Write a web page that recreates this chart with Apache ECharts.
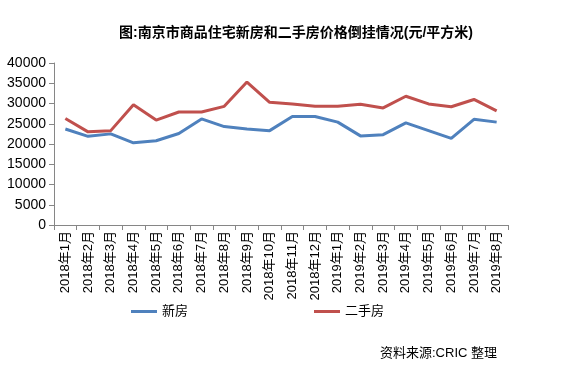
<!DOCTYPE html>
<html><head><meta charset="utf-8">
<script src="https://cdn.jsdelivr.net/npm/echarts@6/dist/echarts.min.js"></script>
<style>html,body{margin:0;padding:0;background:#fff}#c{width:576px;height:369px}</style>
</head><body><div id="c"></div>
<script>
var categories = ['2018年1月','2018年2月','2018年3月','2018年4月','2018年5月','2018年6月','2018年7月','2018年8月','2018年9月','2018年10月','2018年11月','2018年12月','2019年1月','2019年2月','2019年3月','2019年4月','2019年5月','2019年6月','2019年7月','2019年8月'];
var newHouse = [23700,21900,22500,20300,20800,22600,26200,24300,23700,23300,26800,26800,25400,22000,22300,25200,23300,21400,26100,25400];
var secondHand = [26300,23000,23300,29700,25900,27900,27900,29300,35300,30300,29900,29300,29300,29800,28900,31800,29900,29200,31000,28200];
var yTicks = [0,5000,10000,15000,20000,25000,30000,35000,40000];
var titleText = '图:南京市商品住宅新房和二手房价格倒挂情况(元/平方米)';
var sourceText = '资料来源:CRIC 整理';

var chart = echarts.init(document.getElementById('c'));
var font = 'Arial, "Liberation Sans", "Noto Sans CJK SC", sans-serif';
chart.setOption({
  animation:false,
  title:[{text:titleText,left:291,top:21,textAlign:'center',textStyle:{fontSize:14,fontWeight:'bold',color:'#000',fontFamily:font}},
         {text:sourceText,right:74,top:342,textStyle:{fontSize:13,fontWeight:'normal',color:'#000',fontFamily:font}}],
  legend:{top:300,left:126,itemGap:126,itemWidth:26,itemHeight:3,icon:'rect',
    textStyle:{fontSize:13,color:'#000',fontFamily:font},data:['新房','二手房']},
  grid:{left:54,right:68,top:63,bottom:144,containLabel:false},
  xAxis:{type:'category',data:categories,boundaryGap:true,
    axisLine:{lineStyle:{color:'#868686',width:1}},
    axisTick:{show:true,alignWithLabel:false,length:5,lineStyle:{color:'#868686'}},
    axisLabel:{rotate:90,interval:0,fontSize:13,color:'#000',margin:6,fontFamily:font}},
  yAxis:{type:'value',min:0,max:40000,interval:5000,
    axisLine:{show:true,lineStyle:{color:'#868686'}},
    axisTick:{show:true,length:5,lineStyle:{color:'#868686'}},
    splitLine:{show:false},
    axisLabel:{fontSize:14,color:'#000',margin:8,fontFamily:font,
      formatter:function(v){return yTicks.indexOf(v)>=0?String(v):'';}}},
  series:[
    {name:'新房',type:'line',data:newHouse,symbol:'none',lineStyle:{color:'#4F81BD',width:3},itemStyle:{color:'#4F81BD'}},
    {name:'二手房',type:'line',data:secondHand,symbol:'none',lineStyle:{color:'#C0504D',width:3},itemStyle:{color:'#C0504D'}}
  ]
});
</script></body></html>
